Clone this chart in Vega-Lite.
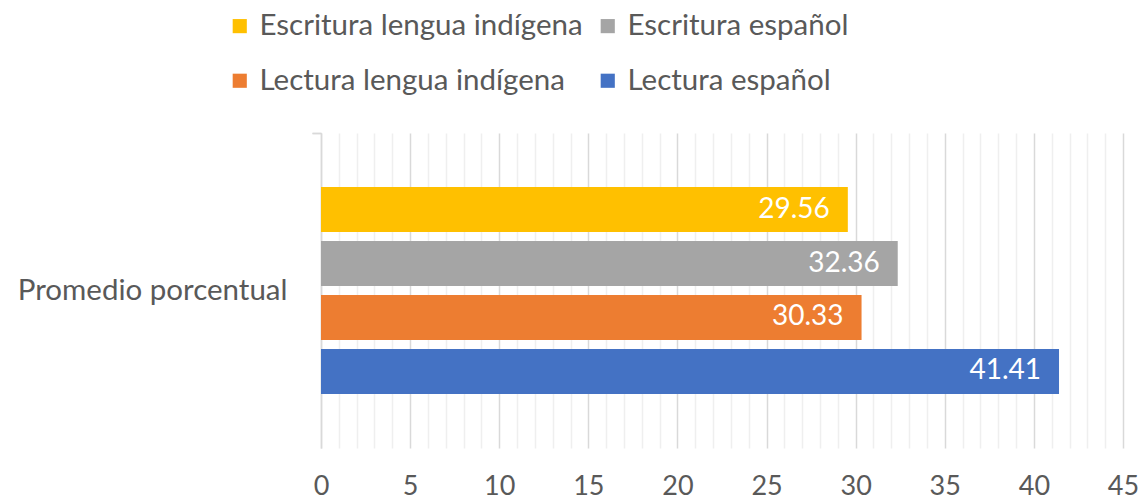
{
  "$schema": "https://vega.github.io/schema/vega-lite/v6.json",
  "width": 802,
  "height": 315,
  "autosize": {"type": "none"},
  "padding": {"left": 321, "top": 133, "right": 19, "bottom": 55},
  "background": "white",
  "config": {"view": {"stroke": null}, "font": "Lato"},
  "data": {"values": [
    {"cat": "Promedio porcentual", "serie": "Escritura lengua indígena", "valor": 29.56},
    {"cat": "Promedio porcentual", "serie": "Escritura español", "valor": 32.36},
    {"cat": "Promedio porcentual", "serie": "Lectura lengua indígena", "valor": 30.33},
    {"cat": "Promedio porcentual", "serie": "Lectura español", "valor": 41.41}
  ]},
  "encoding": {
    "y": {"field": "cat", "type": "nominal", "title": null,
      "scale": {"paddingInner": 0, "paddingOuter": 0},
      "axis": {"bandPosition": 0, "tickExtra": true, "domainColor": "#d9d9d9", "domainWidth": 1.5, "tickColor": "#d9d9d9", "tickWidth": 1.5, "tickSize": 9, "labelFontSize": 29.5, "labelColor": "#595959", "labelPadding": 25, "labelFont": "Lato", "labelLimit": 400}},
    "yOffset": {"field": "serie", "type": "nominal", "sort": ["Escritura lengua indígena", "Escritura español", "Lectura lengua indígena", "Lectura español"],
      "scale": {"paddingInner": 0.166, "paddingOuter": 1.095}},
    "x": {"field": "valor", "type": "quantitative", "title": null,
      "scale": {"domain": [0, 45], "nice": false},
      "axis": {"values": [0,1,2,3,4,5,6,7,8,9,10,11,12,13,14,15,16,17,18,19,20,21,22,23,24,25,26,27,28,29,30,31,32,33,34,35,36,37,38,39,40,41,42,43,44,45],
        "labelExpr": "datum.value % 5 === 0 ? datum.label : ''",
        "labelFlush": false, "labelOverlap": false,
        "domain": false, "ticks": false, "labelFontSize": 27, "labelColor": "#595959", "labelPadding": 25, "labelFont": "Lato",
        "gridColor": {"condition": {"test": "datum.value % 5 === 0", "value": "#d9d9d9"}, "value": "#efefef"},
        "gridWidth": 1.5}}
  },
  "layer": [
    {"mark": {"type": "bar"},
      "encoding": {
        "color": {"field": "serie", "type": "nominal",
          "scale": {"domain": ["Escritura lengua indígena", "Escritura español", "Lectura lengua indígena", "Lectura español"], "range": ["#FFC000", "#A5A5A5", "#ED7D31", "#4472C4"]},
          "legend": {"title": null, "orient": "none", "legendX": -96, "legendY": -122, "direction": "horizontal", "columns": 2, "symbolType": "square", "symbolSize": 200, "symbolStrokeWidth": 0, "labelFontSize": 29.5, "labelColor": "#595959", "labelFont": "Lato", "labelOffset": 5, "rowPadding": 24, "columnPadding": 10, "padding": 0, "labelLimit": 500}}
      }},
    {"mark": {"type": "text", "align": "right", "baseline": "middle", "dx": -18, "color": "white", "fontSize": 28, "font": "Lato"},
      "encoding": {"text": {"field": "valor", "type": "quantitative", "format": ".2f"}}}
  ]
}
